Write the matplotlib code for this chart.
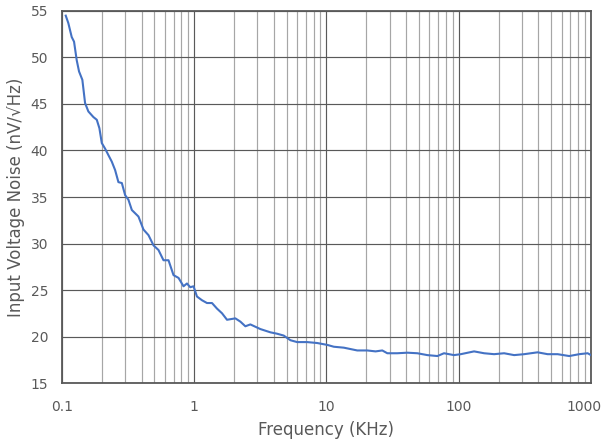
import matplotlib
matplotlib.use("Agg")
import matplotlib.pyplot as plt
import matplotlib.transforms as mtransforms
from matplotlib.ticker import FixedLocator, NullFormatter, FixedFormatter

# frequency in kHz, noise in nV/sqrt(Hz)
freq = [0.1067, 0.1116, 0.1184, 0.1233, 0.1292, 0.1345, 0.1425, 0.1494, 0.1582,
        0.1726, 0.1832, 0.1917, 0.1999, 0.2117, 0.2243, 0.2379, 0.2520, 0.2670,
        0.2834, 0.3001, 0.3179, 0.3373, 0.3784, 0.4130, 0.4506, 0.4918, 0.5364,
        0.5853, 0.6387, 0.6968, 0.7605, 0.8297, 0.8806, 0.9327, 0.9878, 1.048,
        1.144, 1.248, 1.362, 1.486, 1.621, 1.769, 2.045, 2.232, 2.435, 2.656,
        3.162, 3.765, 4.231, 4.748, 5.338, 5.998, 7.143, 8.502, 10.12, 11.36,
        13.52, 17.09, 20.34, 23.50, 26.42, 28.83, 34.33, 40.87, 48.66, 57.94,
        68.97, 77.37, 92.13, 103.6, 130.6, 155.5, 185.1, 220.4, 262.4, 312.4,
        394.6, 469.9, 559.4, 684.7, 815.4, 944.0, 1000.0]
noise = [54.5, 53.7, 52.2, 51.7, 49.7, 48.5, 47.6, 45.1, 44.2,
         43.6, 43.3, 42.4, 40.8, 40.2, 39.5, 38.8, 37.9, 36.6,
         36.5, 35.2, 34.7, 33.6, 32.9, 31.5, 30.9, 29.8, 29.3,
         28.2, 28.2, 26.6, 26.3, 25.4, 25.7, 25.3, 25.4, 24.3,
         23.9, 23.6, 23.6, 23.0, 22.5, 21.8, 21.95, 21.6, 21.1, 21.3,
         20.8, 20.45, 20.3, 20.1, 19.6, 19.4, 19.4, 19.3, 19.1, 18.9,
         18.8, 18.5, 18.5, 18.4, 18.5, 18.2, 18.2, 18.26, 18.2, 18.0,
         17.9, 18.2, 18.0, 18.1, 18.4, 18.2, 18.1, 18.2, 18.0, 18.1,
         18.3, 18.1, 18.1, 17.9, 18.1, 18.2, 18.0]

x_ticks = [0.1, 1, 10, 100, 1000]
x_labels = ["0.1", "1", "10", "100", "1000"]
y_ticks = [15, 20, 25, 30, 35, 40, 45, 50, 55]

fig = plt.figure(figsize=(6.08, 4.45), dpi=100)
ax = fig.add_axes([0.102, 0.1393, 0.870, 0.836])

ax.plot(freq, noise, color="#4472C4", lw=1.5, zorder=3)

ax.set_xscale("log")
ax.set_xlim(0.1, 1000)
ax.set_ylim(15, 55)

minor = [m * d for d in [0.1, 1, 10, 100] for m in range(2, 10)]
ax.xaxis.set_major_locator(FixedLocator(x_ticks))
ax.xaxis.set_major_formatter(FixedFormatter(x_labels))
ax.xaxis.set_minor_locator(FixedLocator(minor))
ax.xaxis.set_minor_formatter(NullFormatter())
ax.set_yticks(y_ticks)

ax.grid(which="major", color="#595959", lw=0.85, zorder=1)
ax.grid(which="minor", axis="x", color="#a6a6a6", lw=0.85, zorder=1)

for s in ax.spines.values():
    s.set_color("#595959")
    s.set_linewidth(1.3)

ax.tick_params(which="both", length=0, colors="#595959", labelsize=10)
ax.tick_params(axis="x", pad=12)
ax.tick_params(axis="y", pad=10)
ax.set_xlabel("Frequency (KHz)", color="#595959", fontsize=12, labelpad=5)
ax.set_ylabel("Input Voltage Noise (nV/\u221aHz)", color="#595959", fontsize=12, labelpad=4)

# keep the last x label inside the figure
last = ax.get_xticklabels()[-1]
last.set_transform(last.get_transform() + mtransforms.ScaledTranslation(-5 / 72, 0, fig.dpi_scale_trans))

fig.savefig("out.png", dpi=100)
